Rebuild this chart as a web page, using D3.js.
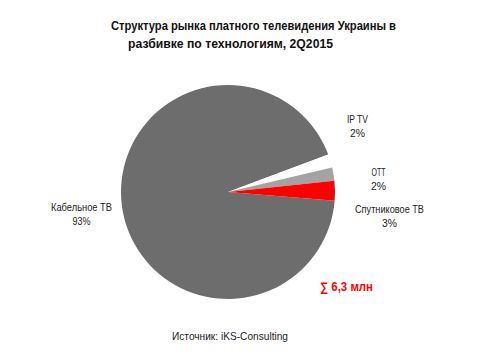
<!DOCTYPE html>
<html><head><meta charset="utf-8">
<script src="https://cdn.jsdelivr.net/npm/d3@7"></script>
<style>body{margin:0;background:#fff}svg{display:block}</style>
</head><body>
<svg id="c" width="480" height="360"></svg>
<script>
const categories = ["Кабельное ТВ", "IP TV", "OTT", "Спутниковое ТВ"];
const values = [93, 2, 2, 3];
const pctLabels = ["93%", "2%", "2%", "3%"];
const titleLines = ["Структура рынка платного телевидения Украины в", "разбивке по технологиям, 2Q2015"];
const totalLabel = "∑ 6,3 млн";
const sourceLabel = "Источник: iKS-Consulting";

const colors = ["#6d6d6d", "#ffffff", "#a3a3a3", "#ff0000"];
const svg = d3.select("#c");
const font = "'Liberation Sans', Arial, sans-serif";

// title
const titleLayout = [{x:111, y:29.5, w:285}, {x:128, y:47.5, w:205}];
titleLines.forEach((t,i)=>{
  svg.append("text").attr("x", titleLayout[i].x).attr("y", titleLayout[i].y)
    .attr("font-family", font).attr("font-weight","bold").attr("font-size", 13)
    .attr("textLength", titleLayout[i].w).attr("lengthAdjust","spacingAndGlyphs")
    .attr("fill","#111").text(t);
});

// pie
const cx = 228, cy = 192, r = 107;
const pie = d3.pie().sort(null).value(d=>d)
  .startAngle(94.7*Math.PI/180).endAngle(94.7*Math.PI/180 + 2*Math.PI);
const arc = d3.arc().innerRadius(0).outerRadius(r);
const g = svg.append("g").attr("transform", `translate(${cx},${cy})`);
g.selectAll("path").data(pie(values)).join("path")
  .attr("d", arc).attr("fill", (d,i)=>colors[i]);

// labels
const labelLayout = [
  {x:81.5, y:211, w:61},
  {x:357.5, y:123, w:21},
  {x:378.5, y:176, w:14},
  {x:389.5, y:213, w:69}
];
const pctW = [18, 15, 15, 15];
categories.forEach((c,i)=>{
  const L = labelLayout[i];
  svg.append("text").attr("x", L.x).attr("y", L.y).attr("text-anchor","middle")
    .attr("font-family", font).attr("font-size", 10.5).attr("fill","#222")
    .attr("textLength", L.w).attr("lengthAdjust","spacingAndGlyphs").text(c);
  svg.append("text").attr("x", L.x).attr("y", L.y + 14).attr("text-anchor","middle")
    .attr("font-family", font).attr("font-size", 10.5).attr("fill","#222")
    .attr("textLength", pctW[i]).attr("lengthAdjust","spacingAndGlyphs").text(pctLabels[i]);
});

svg.append("text").attr("x", 320).attr("y", 291)
  .attr("font-family", font).attr("font-weight","bold").attr("font-size", 12.5).attr("fill","#ff0000")
  .attr("textLength", 53).attr("lengthAdjust","spacingAndGlyphs").text(totalLabel);

svg.append("text").attr("x", 172).attr("y", 340)
  .attr("font-family", font).attr("font-size", 11).attr("fill","#222")
  .attr("textLength", 116).attr("lengthAdjust","spacingAndGlyphs").text(sourceLabel);
</script>
</body></html>
